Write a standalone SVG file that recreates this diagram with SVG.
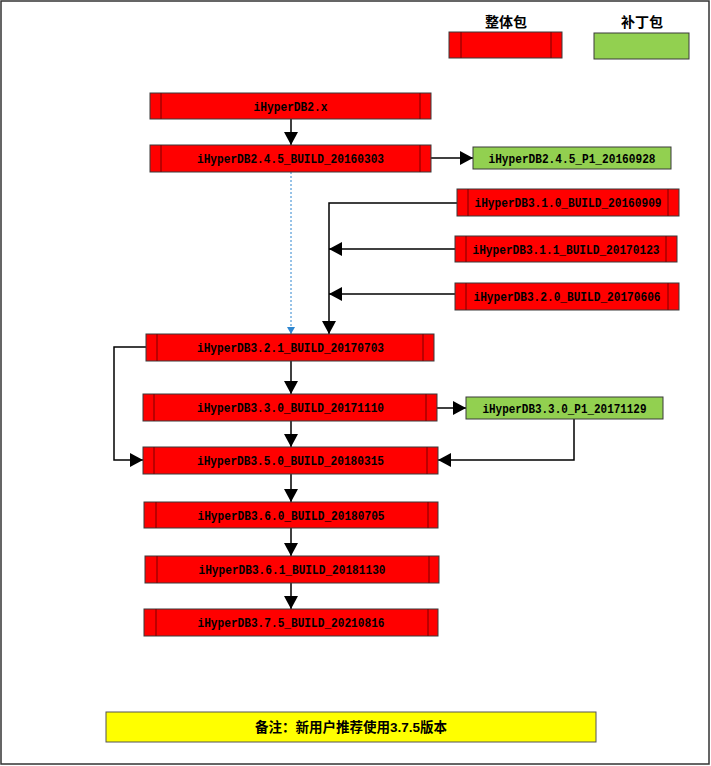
<svg xmlns="http://www.w3.org/2000/svg" width="711" height="766" viewBox="0 0 711 766">
<style>
.red{fill:#FF0000;stroke:#3a3a3a;stroke-width:1}
.inner{stroke:#7a0000;stroke-width:1}
.green{fill:#92D050;stroke:#3a3a3a;stroke-width:1}
.lbl{font-family:"Liberation Mono",monospace;font-weight:bold;font-size:13.5px;fill:#000;text-anchor:middle}
.cjk{font-family:"Liberation Sans","Noto Sans CJK SC",sans-serif;font-weight:bold;fill:#000;text-anchor:middle}
.con{fill:none;stroke:#000;stroke-width:1.5}
.dot{fill:none;stroke:#2E86D0;stroke-width:1;stroke-dasharray:2,2}
</style>
<defs>
<marker id="ah" markerUnits="userSpaceOnUse" markerWidth="13" markerHeight="14" refX="13" refY="7" orient="auto">
<path d="M0,0 L13,7 L0,14 z" fill="#000"/>
</marker>
<marker id="ahb" markerUnits="userSpaceOnUse" markerWidth="7" markerHeight="8" refX="7" refY="4" orient="auto">
<path d="M0,0 L7,4 L0,8 z" fill="#2E86D0"/>
</marker>
</defs>
<rect x="1" y="1" width="708" height="763" fill="#fff" stroke="#333" stroke-width="1.5"/>

<g id="legend-full">
<text class="cjk" x="506" y="27" font-size="14">整体包</text>
<rect class="red" x="449" y="32" width="113" height="26"/>
<line class="inner" x1="461" y1="32" x2="461" y2="58"/>
<line class="inner" x1="551" y1="32" x2="551" y2="58"/>
</g>
<g id="legend-patch">
<text class="cjk" x="642" y="27" font-size="14">补丁包</text>
<rect class="green" x="594" y="33" width="95" height="26"/>
</g>

<g id="connectors">
<path class="con" d="M291,119 L291,145" marker-end="url(#ah)"/>
<path class="con" d="M431,158 L473,158" marker-end="url(#ah)"/>
<path class="dot" d="M291,172 L291,334" marker-end="url(#ahb)"/>
<path class="con" d="M457,203 L329,203 L329,334" marker-end="url(#ah)"/>
<path class="con" d="M455,249 L329,249" marker-end="url(#ah)"/>
<path class="con" d="M455,294 L329,294" marker-end="url(#ah)"/>
<path class="con" d="M291,361 L291,394" marker-end="url(#ah)"/>
<path class="con" d="M146,347 L114,347 L114,460 L143,460" marker-end="url(#ah)"/>
<path class="con" d="M437,408 L466,408" marker-end="url(#ah)"/>
<path class="con" d="M291,421 L291,447" marker-end="url(#ah)"/>
<path class="con" d="M574,419 L574,460 L438,460" marker-end="url(#ah)"/>
<path class="con" d="M291,474 L291,502" marker-end="url(#ah)"/>
<path class="con" d="M291,528 L291,556" marker-end="url(#ah)"/>
<path class="con" d="M291,583 L291,609" marker-end="url(#ah)"/>
</g>

<g id="n-2x">
<rect class="red" x="150" y="93" width="281" height="26"/>
<line class="inner" x1="161" y1="93" x2="161" y2="119"/>
<line class="inner" x1="420" y1="93" x2="420" y2="119"/>
<text class="lbl" x="290.5" y="110.5" textLength="74" lengthAdjust="spacingAndGlyphs">iHyperDB2.x</text>
</g>
<g id="n-245">
<rect class="red" x="150" y="145" width="281" height="27"/>
<line class="inner" x1="161" y1="145" x2="161" y2="172"/>
<line class="inner" x1="420" y1="145" x2="420" y2="172"/>
<text class="lbl" x="290.5" y="163" textLength="187" lengthAdjust="spacingAndGlyphs">iHyperDB2.4.5_BUILD_20160303</text>
</g>
<g id="p-245">
<rect class="green" x="473" y="147" width="198" height="22"/>
<text class="lbl" x="572" y="163" textLength="167" lengthAdjust="spacingAndGlyphs">iHyperDB2.4.5_P1_20160928</text>
</g>
<g id="n-310">
<rect class="red" x="457" y="189" width="222" height="27"/>
<line class="inner" x1="468" y1="189" x2="468" y2="216"/>
<line class="inner" x1="668" y1="189" x2="668" y2="216"/>
<text class="lbl" x="568" y="207" textLength="187" lengthAdjust="spacingAndGlyphs">iHyperDB3.1.0_BUILD_20160909</text>
</g>
<g id="n-311">
<rect class="red" x="455" y="236" width="222" height="26"/>
<line class="inner" x1="466" y1="236" x2="466" y2="262"/>
<line class="inner" x1="666" y1="236" x2="666" y2="262"/>
<text class="lbl" x="566" y="253.5" textLength="187" lengthAdjust="spacingAndGlyphs">iHyperDB3.1.1_BUILD_20170123</text>
</g>
<g id="n-320">
<rect class="red" x="455" y="283" width="224" height="27"/>
<line class="inner" x1="466" y1="283" x2="466" y2="310"/>
<line class="inner" x1="668" y1="283" x2="668" y2="310"/>
<text class="lbl" x="567" y="301" textLength="187" lengthAdjust="spacingAndGlyphs">iHyperDB3.2.0_BUILD_20170606</text>
</g>
<g id="n-321">
<rect class="red" x="146" y="334" width="288" height="27"/>
<line class="inner" x1="157" y1="334" x2="157" y2="361"/>
<line class="inner" x1="423" y1="334" x2="423" y2="361"/>
<text class="lbl" x="290.5" y="352" textLength="187" lengthAdjust="spacingAndGlyphs">iHyperDB3.2.1_BUILD_20170703</text>
</g>
<g id="n-330">
<rect class="red" x="143" y="394" width="294" height="27"/>
<line class="inner" x1="154" y1="394" x2="154" y2="421"/>
<line class="inner" x1="426" y1="394" x2="426" y2="421"/>
<text class="lbl" x="290.5" y="412" textLength="187" lengthAdjust="spacingAndGlyphs">iHyperDB3.3.0_BUILD_20171110</text>
</g>
<g id="p-330">
<rect class="green" x="466" y="397" width="197" height="22"/>
<text class="lbl" x="564.5" y="413" textLength="164" lengthAdjust="spacingAndGlyphs">iHyperDB3.3.0_P1_20171129</text>
</g>
<g id="n-350">
<rect class="red" x="143" y="447" width="295" height="27"/>
<line class="inner" x1="154" y1="447" x2="154" y2="474"/>
<line class="inner" x1="427" y1="447" x2="427" y2="474"/>
<text class="lbl" x="290.5" y="465" textLength="187" lengthAdjust="spacingAndGlyphs">iHyperDB3.5.0_BUILD_20180315</text>
</g>
<g id="n-360">
<rect class="red" x="144" y="502" width="294" height="26"/>
<line class="inner" x1="156" y1="502" x2="156" y2="528"/>
<line class="inner" x1="428" y1="502" x2="428" y2="528"/>
<text class="lbl" x="291" y="519.5" textLength="187" lengthAdjust="spacingAndGlyphs">iHyperDB3.6.0_BUILD_20180705</text>
</g>
<g id="n-361">
<rect class="red" x="145" y="556" width="294" height="27"/>
<line class="inner" x1="157" y1="556" x2="157" y2="583"/>
<line class="inner" x1="429" y1="556" x2="429" y2="583"/>
<text class="lbl" x="292" y="574" textLength="187" lengthAdjust="spacingAndGlyphs">iHyperDB3.6.1_BUILD_20181130</text>
</g>
<g id="n-375">
<rect class="red" x="144" y="609" width="294" height="27"/>
<line class="inner" x1="156" y1="609" x2="156" y2="636"/>
<line class="inner" x1="428" y1="609" x2="428" y2="636"/>
<text class="lbl" x="291" y="627" textLength="187" lengthAdjust="spacingAndGlyphs">iHyperDB3.7.5_BUILD_20210816</text>
</g>

<g id="note">
<rect x="106" y="712" width="490" height="30" fill="#FFFF00" stroke="#555" stroke-width="1"/>
<text class="cjk" x="351" y="732" font-size="13.5">备注：新用户推荐使用3.7.5版本</text>
</g>
</svg>
